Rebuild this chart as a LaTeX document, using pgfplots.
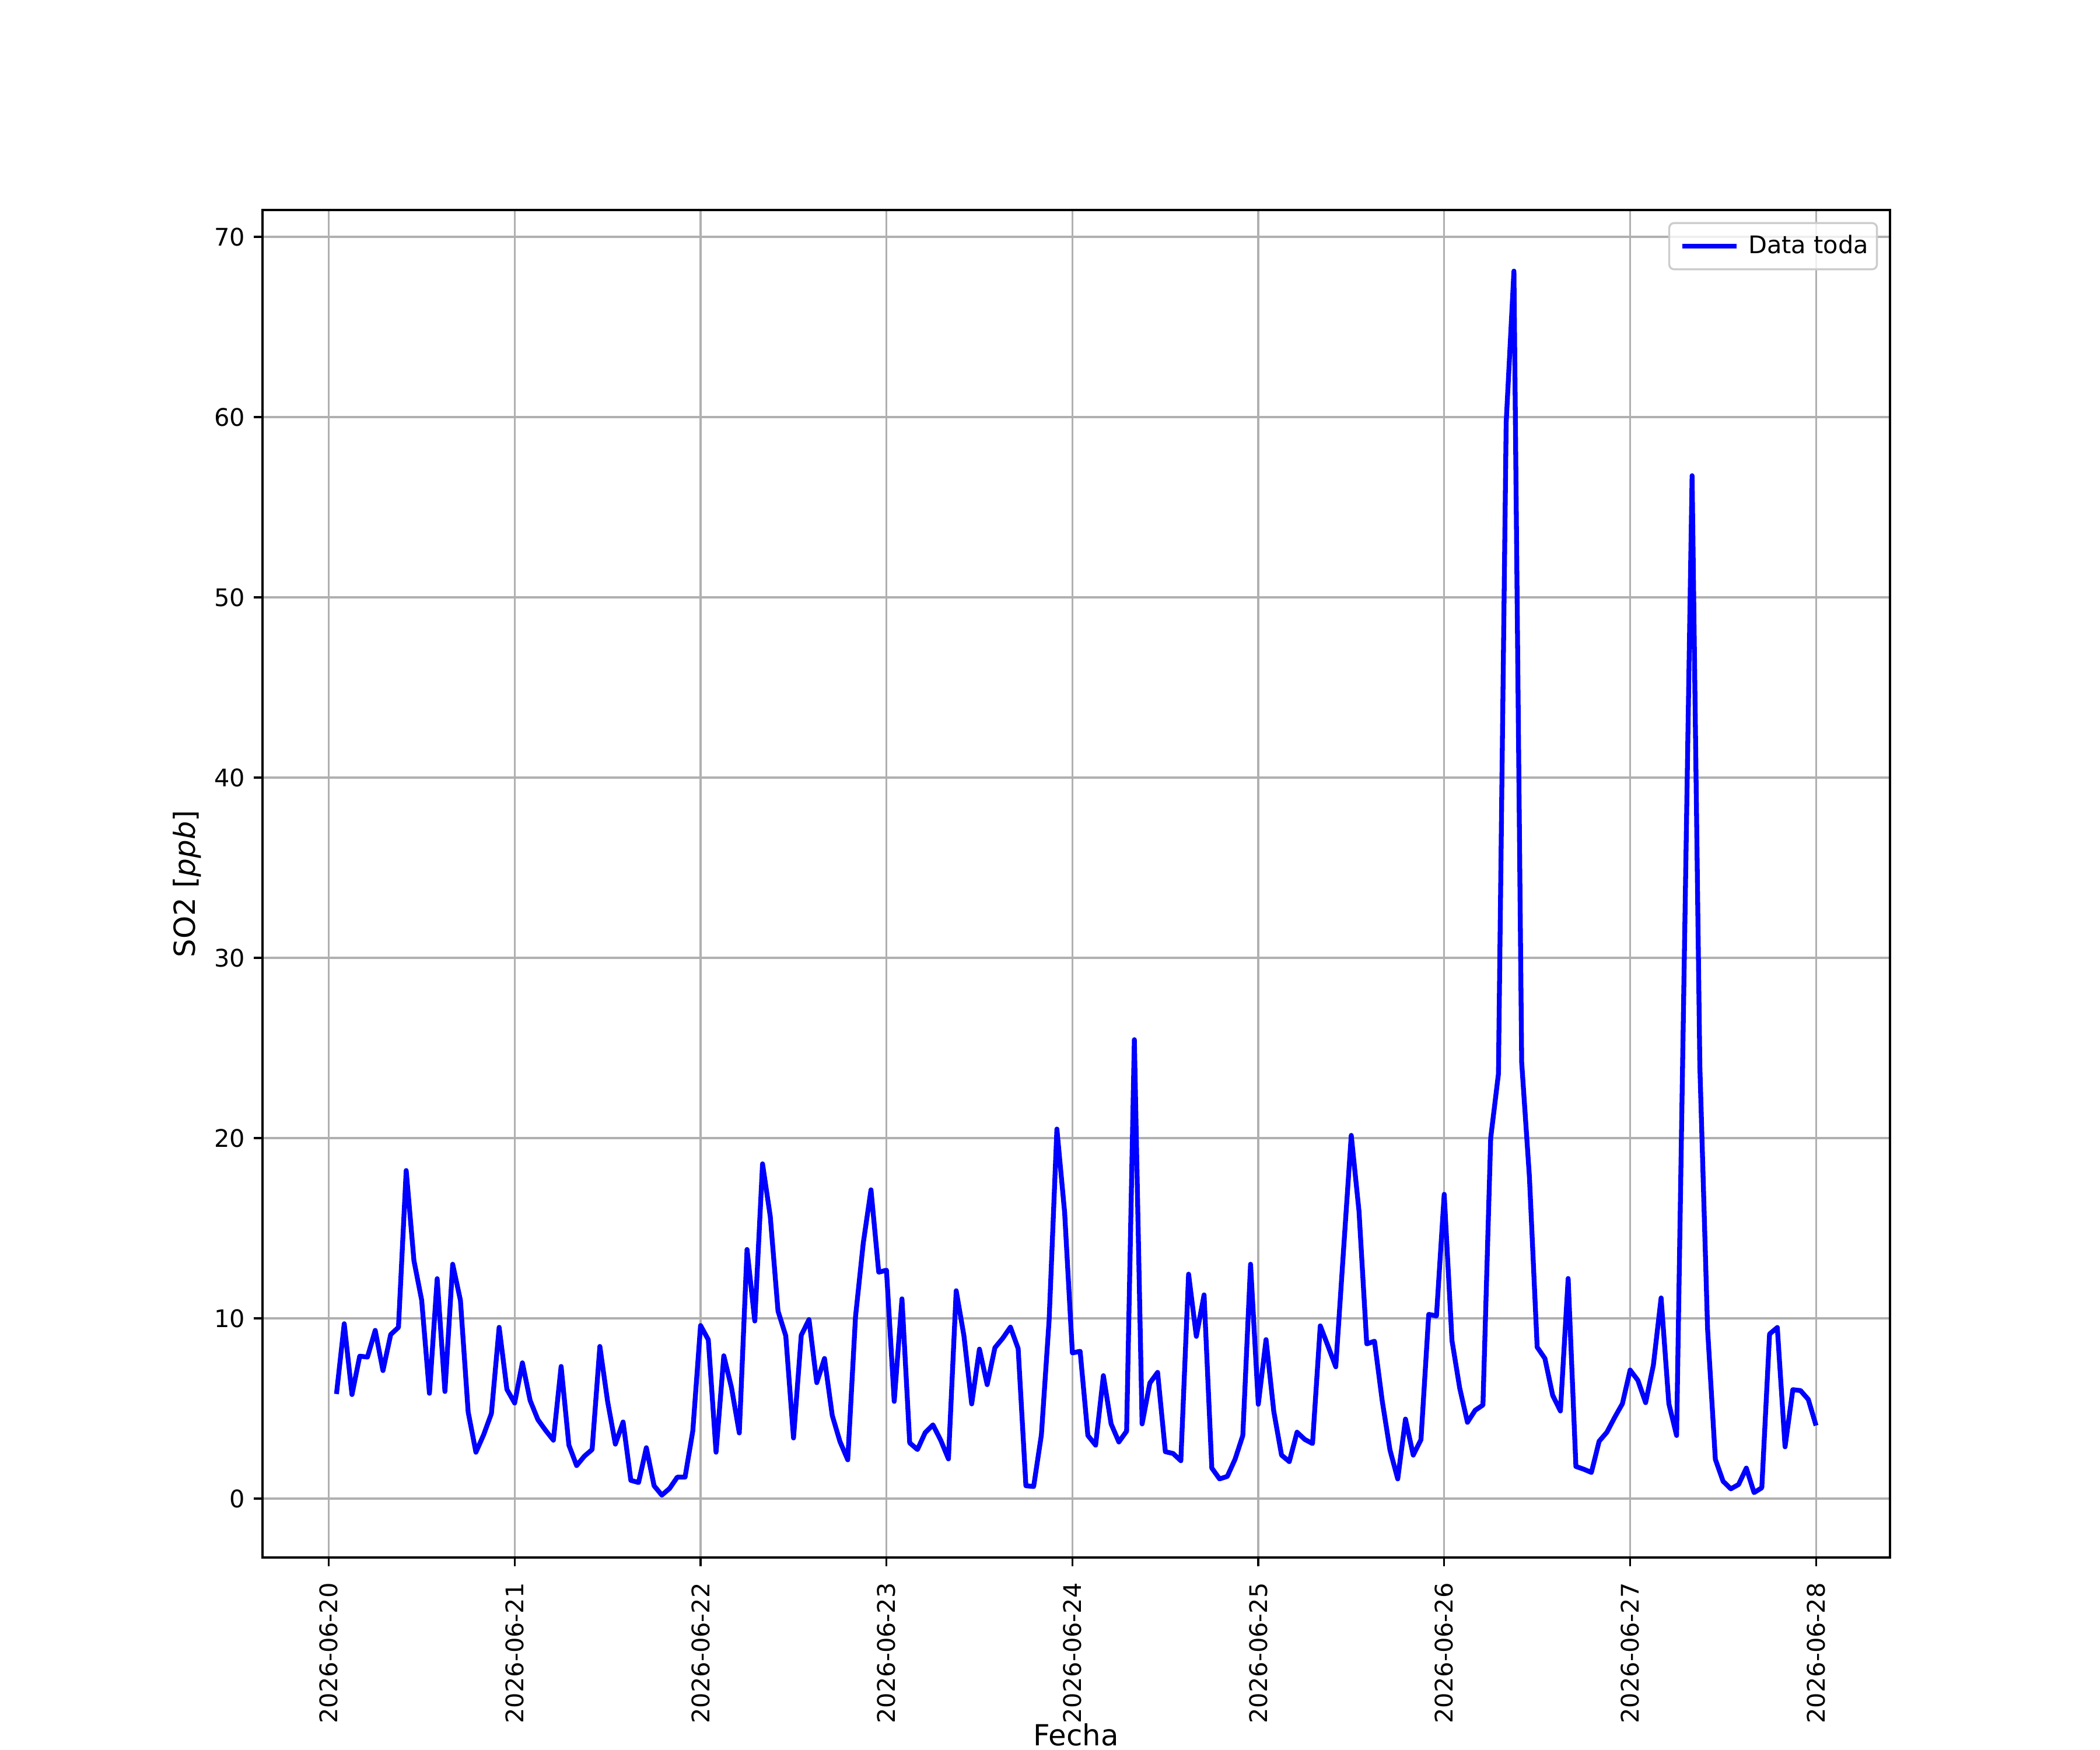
\documentclass[border=0pt]{standalone}
\usepackage{fontspec}
\setmainfont{DejaVu Sans}
\usepackage{pgfplots}
\pgfplotsset{compat=1.18}
\usepackage{pgfplotstable}
\definecolor{gridgray}{HTML}{B0B0B0}
\definecolor{legframe}{HTML}{CCCCCC}
\pgfplotstableread{
h v
1 5.8
2 9.7
3 5.77
4 7.9
5 7.85
6 9.33
7 7.1
8 9.1
9 9.5
10 18.2
11 13.2
12 11.0
13 5.84
14 12.2
15 5.94
16 13.0
17 11.0
18 4.8
19 2.57
20 3.54
21 4.72
22 9.5
23 6.06
24 5.3
25 7.53
26 5.44
27 4.38
28 3.78
29 3.24
30 7.33
31 2.97
32 1.83
33 2.35
34 2.72
35 8.44
36 5.39
37 3.02
38 4.25
39 1.01
40 0.89
41 2.82
42 0.71
43 0.19
44 0.56
45 1.19
46 1.19
47 3.76
48 9.6
49 8.81
50 2.57
51 7.92
52 6.14
53 3.64
54 13.82
55 9.85
56 18.57
57 15.65
58 10.4
59 9.03
60 3.36
61 9.06
62 9.93
63 6.43
64 7.77
65 4.61
66 3.16
67 2.15
68 10.07
69 14.16
70 17.13
71 12.56
72 12.67
73 5.39
74 11.08
75 3.09
76 2.72
77 3.66
78 4.09
79 3.24
80 2.2
81 11.53
82 9.03
83 5.25
84 8.29
85 6.32
86 8.37
87 8.89
88 9.51
89 8.32
90 0.71
91 0.67
92 3.54
93 9.93
94 20.5
95 15.87
96 8.08
97 8.17
98 3.5
99 2.96
100 6.82
101 4.14
102 3.14
103 3.74
104 25.46
105 4.14
106 6.41
107 7.0
108 2.6
109 2.5
110 2.1
111 12.45
112 9.0
113 11.3
114 1.69
115 1.09
116 1.23
117 2.18
118 3.5
119 13.0
120 5.23
121 8.82
122 4.83
123 2.41
124 2.05
125 3.68
126 3.28
127 3.05
128 9.58
129 8.46
130 7.31
131 13.76
132 20.15
133 15.94
134 8.58
135 8.73
136 5.41
137 2.69
138 1.09
139 4.41
140 2.41
141 3.27
142 10.22
143 10.13
144 16.88
145 8.77
146 6.13
147 4.23
148 4.9
149 5.19
150 20.0
151 23.56
152 59.7
153 68.1
154 24.2
155 17.84
156 8.4
157 7.77
158 5.73
159 4.86
160 12.21
161 1.78
162 1.63
163 1.45
164 3.18
165 3.68
166 4.5
167 5.26
168 7.13
169 6.56
170 5.32
171 7.4
172 11.13
173 5.26
174 3.5
176 56.75
177 24.0
178 9.4
179 2.18
180 0.96
181 0.54
182 0.78
183 1.69
184 0.33
185 0.6
186 9.13
187 9.49
188 2.87
189 6.04
190 5.99
191 5.5
192 4.05
}\datatable
\begin{document}
\begin{tikzpicture}
\path[use as bounding box] (0,0) rectangle (12in,10in);
\begin{axis}[
  at={(1.5in,1.1in)}, anchor=south west,
  scale only axis, width=9.3in, height=7.7in,
  xmin=-8.55, xmax=201.55, ymin=-3.27, ymax=71.49,
  xtick={0,24,48,72,96,120,144,168,192},
  xticklabels={2026-06-20,2026-06-21,2026-06-22,2026-06-23,2026-06-24,2026-06-25,2026-06-26,2026-06-27,2026-06-28},
  ytick={0,10,20,30,40,50,60,70},
  /pgf/number format/assume math mode=true,
  ticklabel style={font=\fontsize{10}{12}\selectfont},
  x tick label style={rotate=90, anchor=east, inner sep=0pt, xshift=-6.7pt},
  y tick label style={anchor=east, inner sep=0pt, xshift=-3.5pt},
  tick align=outside, major tick length=3.5pt,
  tick style={black, line width=0.8pt},
  xtick pos=bottom, ytick pos=left,
  axis line style={line width=0.8pt},
  grid=major,
  major grid style={gridgray, line width=0.8pt},
  xlabel={Fecha}, ylabel={SO2 [\textit{ppb}]},
  label style={font=\fontsize{12}{14}\selectfont},
  xlabel style={at={(axis description cs:0.5,-0.1395)}, anchor=base, inner sep=0pt},
  ylabel style={at={(axis description cs:-0.0463,0.5)}, anchor=center},
  legend style={at={(1,1)}, anchor=north east, xshift=-5pt, yshift=-5pt,
    draw=legframe, line width=0.8pt, rounded corners=2pt,
    font=\fontsize{10}{12}\selectfont, inner xsep=1.5pt, inner ysep=3pt,
    column sep=2.9pt,
    fill=white, fill opacity=0.8, text opacity=1},
  legend cell align=left,
  legend image code/.code={\path (-3.8pt,0pt); \draw[#1, line width=2pt, line cap=rect] (0pt,0pt) -- (20.5pt,0pt);},
]
\addplot[color=blue, line width=2pt, line join=round, no marks] table[x=h, y=v] {\datatable};
\addlegendentry{Data toda}
\end{axis}
\end{tikzpicture}
\end{document}
